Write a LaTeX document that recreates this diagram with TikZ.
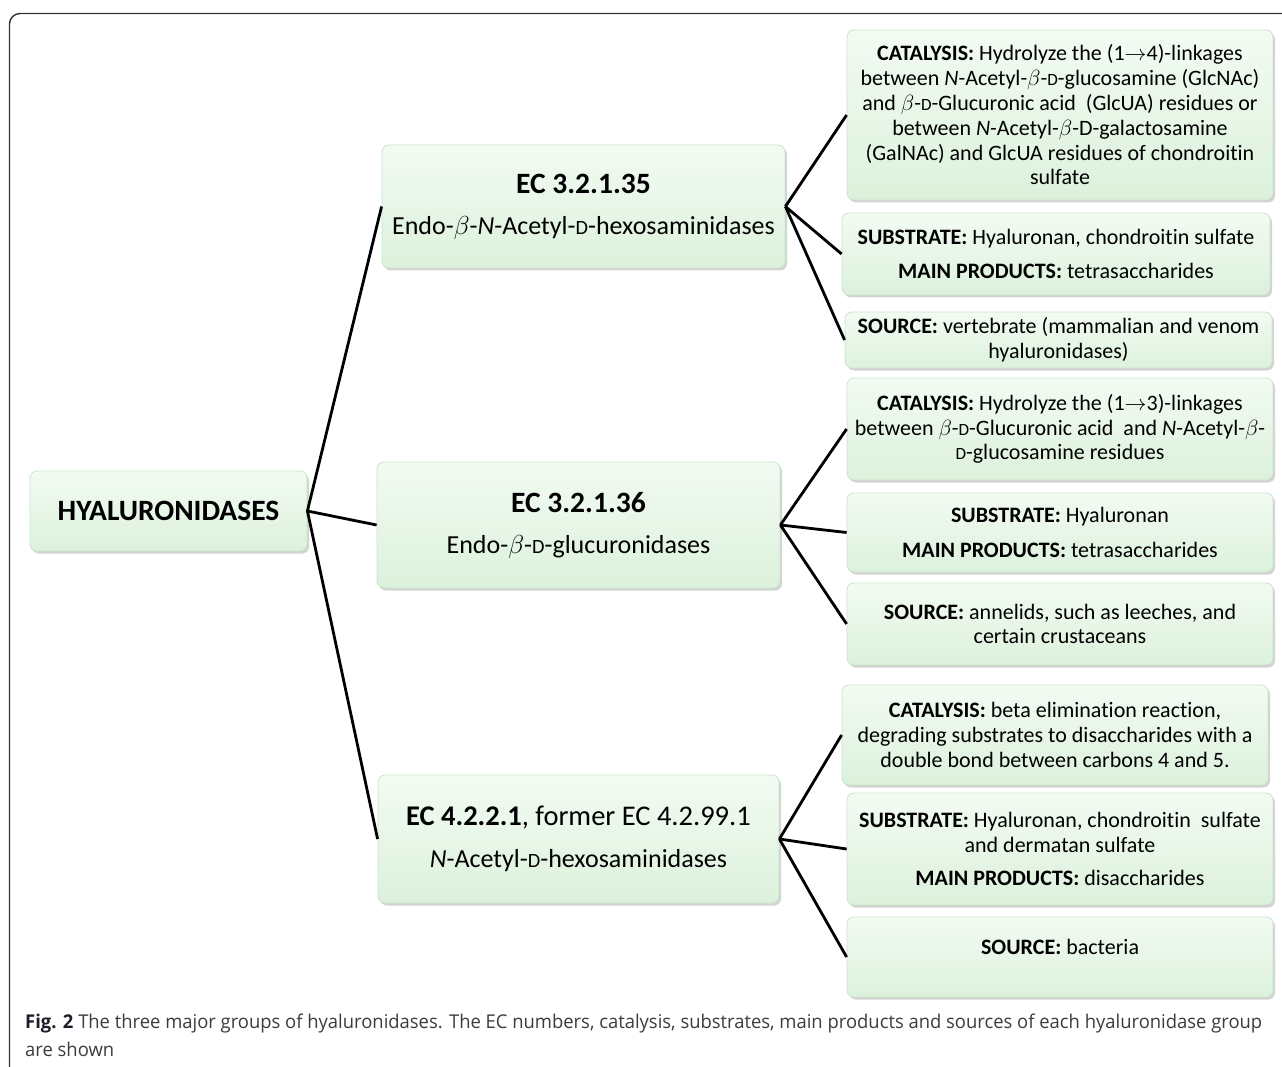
\RequirePackage{fix-cm}
\documentclass[tikz,border=0pt]{standalone}
\usepackage{fontspec}
\setmainfont[Ligatures=NoCommon]{Carlito}
\newfontfamily\capfont{Open Sans}
\usetikzlibrary{shadows}
\definecolor{boxtop}{HTML}{F3FBF3}
\definecolor{boxbot}{HTML}{DCF1DC}
\definecolor{boxline}{HTML}{C9E5C9}
\definecolor{frameline}{HTML}{333333}
\definecolor{captext}{HTML}{3C3C3C}
\definecolor{capbold}{HTML}{1E1E28}
\newcommand\dsc{\scalebox{0.78}{D}}
\newcommand\bet{$\beta$}
\newcommand\echead[1]{{\fontsize{29.5}{30}\selectfont #1}}
\tikzset{
  box/.style={draw=boxline, line width=0.8pt, rounded corners=7pt,
    top color=boxtop, bottom color=boxbot, align=center, inner sep=0pt,
    drop shadow={shadow xshift=2pt, shadow yshift=-2.5pt, opacity=0.35}},
  rbox/.style={box, font=\fontsize{22}{24.8}\selectfont},
  ecbox/.style={box, font=\fontsize{26}{30}\selectfont},
  conn/.style={draw=black, line width=2.8pt},
}
\begin{document}
\begin{tikzpicture}[x=1pt,y=-1pt]
\useasboundingbox (0,0) rectangle (1282,1067);
% frame
\draw[frameline, line width=1.4pt, rounded corners=10.5pt] (9.5,1072) -- (9.5,13.5) -- (1290,13.5);

% root
\node[box, minimum width=277pt, minimum height=80pt, font=\fontsize{29.5}{32}\selectfont\bfseries] (hy) at (168.5,511) {HYALURONIDASES};

% EC boxes
\node[ecbox, minimum width=403pt, minimum height=123pt] (ec1) at (583.5,206.5)
  {\echead{\textbf{EC 3.2.1.35}}\\[11pt] Endo-\bet-\textit{N}-Acetyl-\dsc-hexosaminidases};
\node[ecbox, minimum width=403pt, minimum height=126pt] (ec2) at (578.5,525)
  {\echead{\textbf{EC 3.2.1.36}}\\[11pt] Endo-\bet-\dsc-glucuronidases};
\node[ecbox, minimum width=401pt, minimum height=128pt] (ec3) at (578.5,839)
  {{\fontsize{28.5}{30}\selectfont\textbf{EC 4.2.2.1}, former EC 4.2.99.1}\\[12pt] \textit{N}-Acetyl-\dsc-hexosaminidases};

% right boxes group 1
\node[rbox, minimum width=426pt, minimum height=170pt] (cat1) at (1060,115)
  {\textbf{CATALYSIS:} Hydrolyze the (1$\rightarrow$4)-linkages\\
   between \textit{N}-Acetyl-\bet-\dsc-glucosamine (GlcNAc)\\
   and \bet-\dsc-Glucuronic acid\ \ (GlcUA) residues or\\
   between \textit{N}-Acetyl-\bet-D-galactosamine\\
   (GalNAc) and GlcUA residues of chondroitin\\
   sulfate};
\node[rbox, minimum width=428pt, minimum height=82pt] (sub1) at (1056,254)
  {\textbf{SUBSTRATE:} Hyaluronan, chondroitin sulfate\\[10pt]
   \textbf{MAIN PRODUCTS:} tetrasaccharides};
\node[rbox, minimum width=427pt, minimum height=56pt] (src1) at (1058.5,340)
  {\textbf{SOURCE:} vertebrate (mammalian and venom\\ hyaluronidases)};

% right boxes group 2
\node[rbox, minimum width=426pt, minimum height=102pt] (cat2) at (1060,429)
  {\textbf{CATALYSIS:} Hydrolyze the (1$\rightarrow$3)-linkages\\
   between \bet-\dsc-Glucuronic acid\ \ and \textit{N}-Acetyl-\bet-\\
   \dsc-glucosamine residues};
\node[rbox, minimum width=426pt, minimum height=79pt] (sub2) at (1060,532.5)
  {\textbf{SUBSTRATE:} Hyaluronan\\[10pt]
   \textbf{MAIN PRODUCTS:} tetrasaccharides};
\node[rbox, minimum width=426pt, minimum height=82pt] (src2) at (1060,624)
  {\textbf{SOURCE:} annelids, such as leeches, and\\ certain crustaceans};

% right boxes group 3
\node[rbox, minimum width=426pt, minimum height=100pt] (cat3) at (1055,735)
  {\textbf{CATALYSIS:} beta elimination reaction,\\
   degrading substrates to disaccharides with a\\
   double bond between carbons 4 and 5.};
\node[rbox, minimum width=426pt, minimum height=112pt] (sub3) at (1060,849)
  {\textbf{SUBSTRATE:} Hyaluronan, chondroitin\ \ sulfate\\
   and dermatan sulfate\\[9pt]
   \textbf{MAIN PRODUCTS:} disaccharides};
\node[rbox, minimum width=426pt, minimum height=80pt] (src3) at (1060,957)
  {\textbf{SOURCE:} bacteria\\[-5pt]\mbox{}};

% connectors
\draw[conn] (hy.east) -- (ec1.west);
\draw[conn] (hy.east) -- (ec2.west);
\draw[conn] (hy.east) -- (ec3.west);
\draw[conn] (ec1.east) -- (cat1.west);
\draw[conn] (ec1.east) -- (sub1.west);
\draw[conn] (ec1.east) -- (src1.west);
\draw[conn] (ec2.east) -- (cat2.west);
\draw[conn] (ec2.east) -- (sub2.west);
\draw[conn] (ec2.east) -- (src2.west);
\draw[conn] (ec3.east) -- (cat3.west);
\draw[conn] (ec3.east) -- (sub3.west);
\draw[conn] (ec3.east) -- (src3.west);

% caption
\node[anchor=base west, inner sep=0pt, text=captext] (cap) at (25,1028)
  {\resizebox{1237pt}{\height}{\capfont\fontsize{19}{28}\selectfont
   \begin{tabular}[t]{@{}l@{}}
   {\color{capbold}\bfseries Fig. 2} The three major groups of hyaluronidases. The EC numbers, catalysis, substrates, main products and sources of each hyaluronidase group\\
   are shown
   \end{tabular}}};
\end{tikzpicture}
\end{document}
